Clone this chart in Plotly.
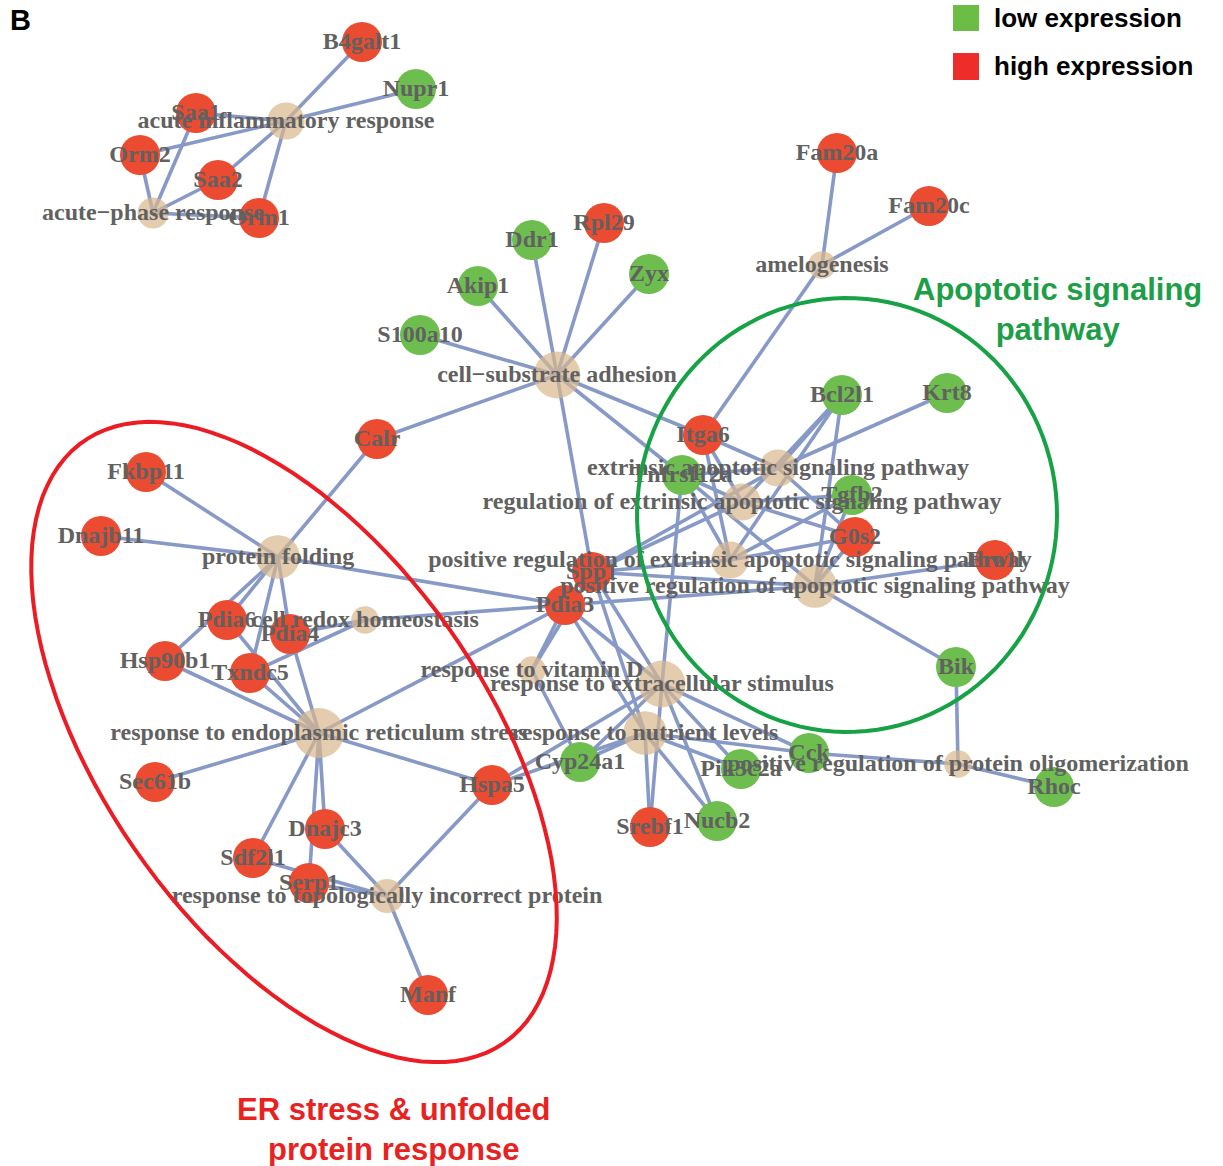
import numpy as np
import plotly.graph_objects as go

# ---------------- data ----------------
gene_names = ["B4galt1", "Nupr1", "Saa1", "Orm2", "Saa2", "Orm1",
              "Fam20a", "Fam20c", "Rpl29", "Ddr1", "Zyx", "Akip1", "S100a10",
              "Calr", "Itga6", "Tnfrsf12a", "Bcl2l1", "Krt8", "Tgfb2", "G0s2",
              "Ero1l", "Spp1", "Pdia3", "Bik", "Cyp24a1", "Pik3c2a", "Cck", "Rhoc",
              "Srebf1", "Nucb2", "Fkbp11", "Dnajb11", "Pdia6", "Pdia4", "Hsp90b1",
              "Txndc5", "Sec61b", "Hspa5", "Dnajc3", "Sdf2l1", "Serp1", "Manf"]
gene_x = [362, 416, 196, 140, 218, 259, 837, 929, 604, 532, 649, 478, 420,
          377, 703, 682, 842, 947, 852, 855, 995, 592, 565, 956, 580, 741, 809, 1054,
          650, 717, 146, 101, 227, 290, 165, 250, 155, 492, 325, 253, 309, 428]
gene_y = [42, 89, 113, 155, 180, 218, 153, 206, 223, 240, 274, 286, 335,
          439, 435, 475, 395, 393, 495, 537, 560, 572, 605, 667, 762, 769, 753, 787,
          827, 821, 472, 536, 620, 634, 661, 673, 782, 785, 829, 858, 883, 995]
gene_expr = ["high", "low", "high", "high", "high", "high",
             "high", "high", "high", "low", "low", "low", "low",
             "high", "high", "low", "low", "low", "low", "high",
             "high", "high", "high", "low", "low", "low", "low", "low",
             "high", "low", "high", "high", "high", "high", "high",
             "high", "high", "high", "high", "high", "high", "high"]

term_names = ["acute inflammatory response", "acute−phase response",
              "cell−substrate adhesion", "amelogenesis", "protein folding",
              "cell redox homeostasis", "response to endoplasmic reticulum stress",
              "response to topologically incorrect protein",
              "extrinsic apoptotic signaling pathway",
              "regulation of extrinsic apoptotic signaling pathway",
              "positive regulation of extrinsic apoptotic signaling pathway",
              "positive regulation of apoptotic signaling pathway",
              "positive regulation of protein oligomerization",
              "response to vitamin D", "response to extracellular stimulus",
              "response to nutrient levels"]
term_x = [286, 153, 557, 822, 278, 365, 319, 387, 778, 742, 730, 815, 958, 532, 662, 645]
term_y = [121, 213, 375, 265, 557, 620, 733, 896, 468, 502, 560, 586, 764, 670, 684, 733]
term_genes = [
    ["B4galt1", "Nupr1", "Saa1", "Orm2", "Saa2", "Orm1"],
    ["Orm2", "Saa1", "Saa2", "Orm1"],
    ["S100a10", "Akip1", "Ddr1", "Rpl29", "Zyx", "Calr", "Itga6", "Tnfrsf12a", "Spp1"],
    ["Fam20a", "Fam20c", "Itga6"],
    ["Fkbp11", "Dnajb11", "Calr", "Pdia6", "Hsp90b1", "Txndc5", "Pdia4", "Pdia3"],
    ["Pdia4", "Txndc5", "Pdia3"],
    ["Pdia6", "Hsp90b1", "Txndc5", "Pdia4", "Sec61b", "Hspa5", "Dnajc3", "Sdf2l1", "Serp1", "Pdia3"],
    ["Sdf2l1", "Serp1", "Dnajc3", "Hspa5", "Manf"],
    ["Itga6", "Bcl2l1", "Krt8", "Tnfrsf12a", "G0s2", "Spp1"],
    ["Itga6", "Tnfrsf12a", "Bcl2l1", "Tgfb2", "G0s2", "Spp1"],
    ["Itga6", "Tnfrsf12a", "Bcl2l1", "Tgfb2", "G0s2", "Spp1"],
    ["Tnfrsf12a", "Bcl2l1", "Tgfb2", "G0s2", "Ero1l", "Bik", "Pdia3", "Spp1"],
    ["Bik", "Cck", "Rhoc"],
    ["Pdia3", "Spp1", "Cyp24a1"],
    ["Pdia3", "Spp1", "Tnfrsf12a", "Cyp24a1", "Hspa5", "Srebf1", "Nucb2", "Pik3c2a", "Cck"],
    ["Pdia3", "Spp1", "Cyp24a1", "Hspa5", "Srebf1", "Nucb2", "Pik3c2a", "Cck"],
]

legend_labels = ["low expression", "high expression"]
group_labels = ["Apoptotic signaling<br>pathway", "ER stress & unfolded<br>protein response"]

# ---------------- styles ----------------
RED = "#EB4B30"
GREEN = "#6DBE4F"
TAN = "#D9B68D"
EDGE = "#8799C6"
LABEL = "#616161"
W, H = 1223, 1166

gpos = {n: (x, y) for n, x, y in zip(gene_names, gene_x, gene_y)}

ex, ey = [], []
for tx, ty, genes in zip(term_x, term_y, term_genes):
    for g in genes:
        gx, gy = gpos[g]
        ex += [tx, gx, None]
        ey += [ty, gy, None]

term_sizes = [len(g) for g in term_genes]
term_marker = [18 + 3.2 * s for s in term_sizes]

fig = go.Figure()
fig.add_trace(go.Scatter(x=ex, y=ey, mode="lines",
                         line=dict(color=EDGE, width=3.6), hoverinfo="skip"))
fig.add_trace(go.Scatter(x=term_x, y=term_y, mode="markers",
                         marker=dict(size=term_marker, color=TAN, line=dict(width=0)),
                         hoverinfo="skip"))
fig.add_trace(go.Scatter(x=gene_x, y=gene_y, mode="markers",
                         marker=dict(size=40, color=[RED if e == "high" else GREEN for e in gene_expr],
                                     line=dict(width=0)),
                         hoverinfo="skip"))
label_font = dict(family="Liberation Serif, Times New Roman, serif", size=24, color=LABEL)
fig.add_trace(go.Scatter(x=term_x, y=[v + 1 for v in term_y], mode="text",
                         text=["<b>%s</b>" % t for t in term_names],
                         textposition="middle center", textfont=label_font, hoverinfo="skip"))
fig.add_trace(go.Scatter(x=gene_x, y=[v + 1 for v in gene_y], mode="text",
                         text=["<b>%s</b>" % t for t in gene_names],
                         textposition="middle center", textfont=label_font, hoverinfo="skip"))

# ellipses
def ellipse_path(cx, cy, a, b, theta_deg, n=120):
    t = np.linspace(0, 2 * np.pi, n)
    th = np.deg2rad(theta_deg)
    xs = cx + a * np.cos(t) * np.cos(th) - b * np.sin(t) * np.sin(th)
    ys = cy + a * np.cos(t) * np.sin(th) + b * np.sin(t) * np.cos(th)
    return "M " + " L ".join("%.1f,%.1f" % (x, y) for x, y in zip(xs, ys)) + " Z"

shapes = [
    dict(type="path", path=ellipse_path(847, 515, 210, 217, 0), xref="x", yref="y",
         line=dict(color="#17A245", width=4), layer="above"),
    dict(type="path", path=ellipse_path(294, 742, 367, 192, 55), xref="x", yref="y",
         line=dict(color="#EC1C24", width=4), layer="above"),
    dict(type="rect", x0=953, x1=979, y0=5, y1=31, xref="x", yref="y",
         fillcolor="#6BBD45", line=dict(width=0)),
    dict(type="rect", x0=953, x1=979, y0=53, y1=80, xref="x", yref="y",
         fillcolor="#EE2D2B", line=dict(width=0)),
]

sans = "Liberation Sans, Arial, Helvetica, sans-serif"
annotations = [
    dict(x=8, y=20, text="<b>B</b>", showarrow=False, xanchor="left", yanchor="middle",
         font=dict(family=sans, size=29, color="black")),
    dict(x=992, y=18, text="<b>%s</b>" % legend_labels[0], showarrow=False, xanchor="left",
         yanchor="middle", font=dict(family=sans, size=26, color="black")),
    dict(x=992, y=66, text="<b>%s</b>" % legend_labels[1], showarrow=False, xanchor="left",
         yanchor="middle", font=dict(family=sans, size=26, color="black")),
    dict(x=1057, y=309, text="<b>%s</b>" % group_labels[0], showarrow=False, xanchor="center",
         yanchor="middle", align="center", font=dict(family=sans, size=31, color="#1E9E47")),
    dict(x=394, y=1129, text="<b>%s</b>" % group_labels[1], showarrow=False, xanchor="center",
         yanchor="middle", align="center", font=dict(family=sans, size=31, color="#E8231F")),
]

fig.update_layout(
    width=W, height=H, margin=dict(l=0, r=0, t=0, b=0),
    paper_bgcolor="white", plot_bgcolor="white", showlegend=False,
    xaxis=dict(range=[0, W], visible=False, fixedrange=True),
    yaxis=dict(range=[H, 0], visible=False, fixedrange=True),
    shapes=shapes, annotations=annotations,
)
fig.write_html("out.html", config={"displayModeBar": False},
               post_script="document.body.style.margin='0';")
